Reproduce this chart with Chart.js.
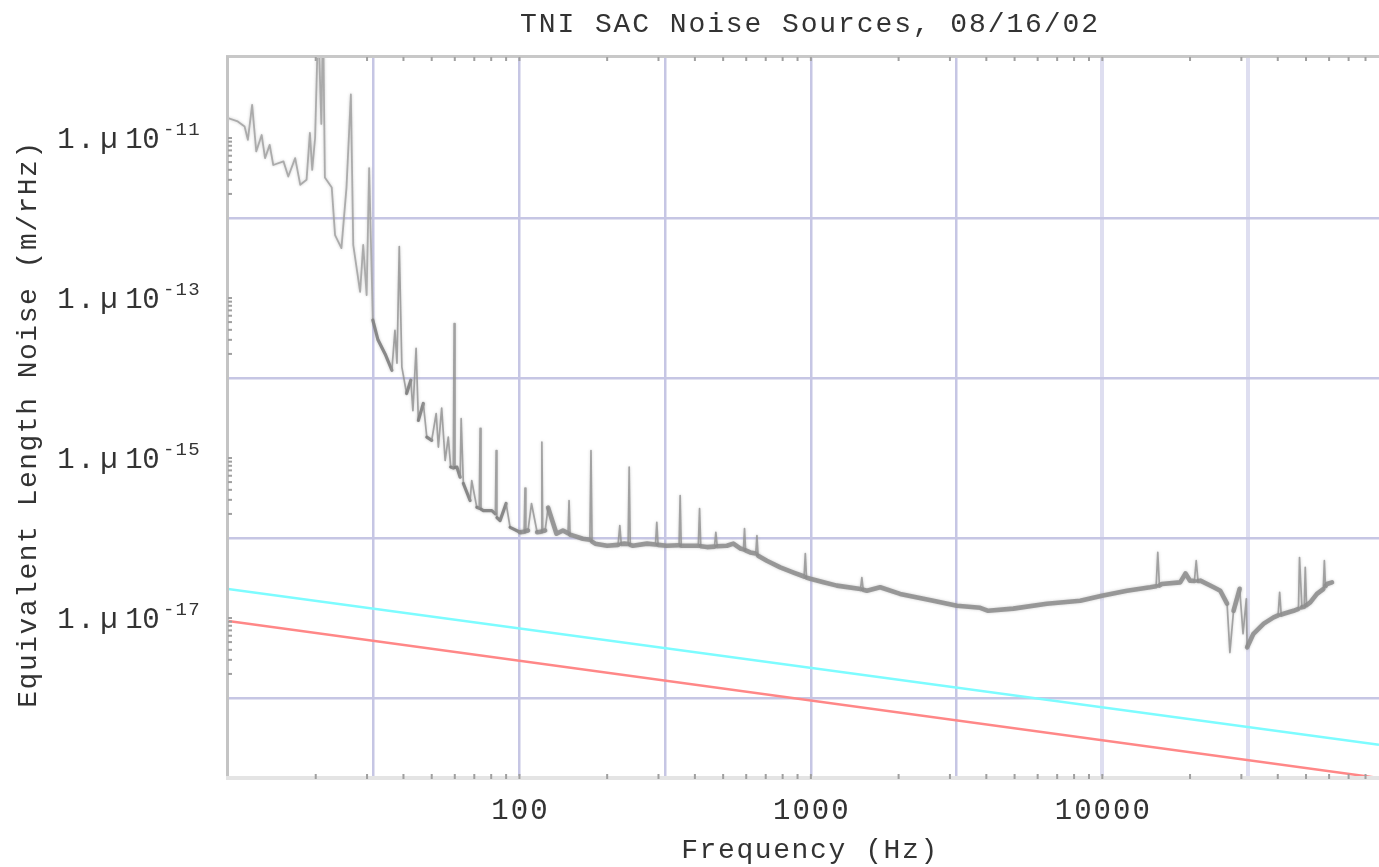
<!DOCTYPE html>
<html>
<head>
<meta charset="utf-8">
<title>TNI SAC Noise Sources</title>
<script src="https://cdn.jsdelivr.net/npm/chart.js@4.4.1/dist/chart.umd.min.js"></script>
<style>
  html, body { margin: 0; padding: 0; background: #fff; }
  #wrap { width: 1379px; height: 867px; }
</style>
</head>
<body>
<div id="wrap"><canvas id="noise-chart" width="1379" height="867"></canvas></div>
<script>
// noise.js - equivalent length noise spectrum, log-log

const chartTitle = 'TNI SAC Noise Sources, 08/16/02';
const xTitle = 'Frequency (Hz)';
const yTitle = 'Equivalent Length Noise (m/rHz)';

// measured spectrum (Hz, m/rHz)
const measFreq = [
  10, 10.8, 11.4, 11.7, 12.1, 12.5, 13.05, 13.4, 13.9, 14.3,
  15.5, 16.1, 17.0, 17.7, 18.6, 19.1, 19.45, 19.9, 20.4, 20.9,
  21.2, 21.5, 22.7, 23.3, 24.5, 25.5, 26.4, 26.9, 28.4, 29.1,
  29.9, 30.5, 31.4, 32.7, 34.6, 36.5, 37.4, 38.0, 38.7, 39.5,
  41.0, 42.4, 43.1, 44.2, 45.0, 46.8, 48.1, 50.0, 51.8, 52.7,
  54.1, 55.6, 57.0, 58.1, 59.3, 59.7, 60.1, 61.0, 62.6, 63.1,
  64.2, 67.7, 68.6, 71.4, 72.8, 73.3, 73.8, 75.2, 80.4, 82.7,
  83.2, 83.7, 85.8, 90.0, 92.9, 100.5, 103.8, 104.5, 105.2, 107,
  110, 115, 118.6, 119.4, 120.2, 122.5, 125.4, 134, 141, 146.8,
  148, 149.2, 153, 165, 174.5, 176, 177.5, 182, 200, 218,
  221, 223.5, 229, 236, 238, 240, 245, 274, 293, 296,
  299, 320, 353, 356, 359, 375, 411, 415, 419, 440,
  467, 472, 477, 515, 542, 572, 587, 592, 597, 619,
  647, 653, 659, 706, 785, 872, 948, 957, 966, 995,
  1105, 1228, 1480, 1496, 1512, 1556, 1729, 2024, 2630, 3170,
  3810, 4060, 4950, 6450, 8400, 9970, 12150, 14600, 15300, 15500,
  15700, 16000, 18500, 19300, 20000, 20700, 21000, 21300, 21700, 24100,
  25400, 26800, 27400, 28200, 29600, 30400, 31200, 31400, 33000, 35800,
  38700, 40100, 40600, 41100, 41900, 45300, 47100, 47500, 48400, 49300,
  49700, 50200, 51700, 54500, 57300, 57800, 58300, 59000, 61400
];
const measNoise = [
  1.77e-11, 1.61e-11, 1.39e-11, 9.5e-12, 2.6e-11, 6.8e-12, 1.09e-11, 5.6e-12, 8.2e-12, 4.6e-12,
  5.1e-12, 3.3e-12, 5.6e-12, 2.6e-12, 3.0e-12, 1.16e-11, 4.0e-12, 1.0e-11, 3e-10, 1.5e-11,
  3e-10, 3.2e-12, 2.4e-12, 6.1e-13, 4.2e-13, 2.4e-12, 3.5e-11, 4.6e-13, 1.19e-13, 4.6e-13,
  1.09e-13, 4.2e-12, 5.3e-14, 3.0e-14, 2.0e-14, 1.25e-14, 3.95e-14, 1.53e-14, 4.4e-13, 1.37e-14,
  6.4e-15, 9.4e-15, 3.9e-15, 2.35e-14, 2.95e-15, 4.8e-15, 1.82e-15, 1.66e-15, 3.6e-15, 1.37e-15,
  4.2e-15, 9.3e-16, 1.82e-15, 7.7e-16, 7.5e-16, 4.8e-14, 7.6e-16, 7.7e-16, 5.75e-16, 3.1e-15,
  4.8e-16, 2.94e-16, 5.2e-16, 2.42e-16, 2.35e-16, 2.34e-15, 2.3e-16, 2.2e-16, 2.2e-16, 2.0e-16,
  1.24e-15, 1.8e-16, 1.65e-16, 2.7e-16, 1.36e-16, 1.18e-16, 1.2e-16, 4.2e-16, 1.22e-16, 1.24e-16,
  2.7e-16, 1.18e-16, 1.2e-16, 1.58e-15, 1.22e-16, 1.24e-16, 2.4e-16, 1.13e-16, 1.24e-16, 1.15e-16,
  2.94e-16, 1.1e-16, 1.07e-16, 9.8e-17, 9.5e-17, 1.24e-15, 9.0e-17, 8.5e-17, 8.0e-17, 8.2e-17,
  1.43e-16, 8.4e-17, 8.5e-17, 8.4e-17, 7.7e-16, 8.2e-17, 8.0e-17, 8.5e-17, 8.3e-17, 1.57e-16,
  8.2e-17, 8.0e-17, 8.1e-17, 3.4e-16, 8.0e-17, 8.0e-17, 8.0e-17, 2.33e-16, 7.9e-17, 7.7e-17,
  7.8e-17, 1.18e-16, 7.9e-17, 8.0e-17, 8.5e-17, 7.4e-17, 7.2e-17, 1.31e-16, 7.0e-17, 6.6e-17,
  6.4e-17, 1.07e-16, 6.0e-17, 5.2e-17, 4.3e-17, 3.7e-17, 3.3e-17, 6.4e-17, 3.2e-17, 3.1e-17,
  2.8e-17, 2.54e-17, 2.3e-17, 3.2e-17, 2.25e-17, 2.19e-17, 2.42e-17, 2.0e-17, 1.64e-17, 1.42e-17,
  1.34e-17, 1.23e-17, 1.31e-17, 1.51e-17, 1.64e-17, 1.9e-17, 2.19e-17, 2.42e-17, 2.5e-17, 6.6e-17,
  2.55e-17, 2.66e-17, 2.79e-17, 3.6e-17, 2.93e-17, 2.9e-17, 5.2e-17, 2.9e-17, 2.93e-17, 2.42e-17,
  2.19e-17, 1.51e-17, 3.7e-18, 1.23e-17, 2.32e-17, 6.35e-18, 1.74e-17, 4.3e-18, 6.35e-18, 8.5e-18,
  1.02e-17, 1.08e-17, 2.09e-17, 1.1e-17, 1.13e-17, 1.23e-17, 1.3e-17, 5.7e-17, 1.36e-17, 1.38e-17,
  4.3e-17, 1.45e-17, 1.57e-17, 2.0e-17, 2.3e-17, 5.2e-17, 2.5e-17, 2.66e-17, 2.79e-17
];

// the two reference curves, straight lines on log-log axes
const cyanFreq = [10, 89000];
const cyanNoise = [2.3e-17, 2.6e-19];
const redFreq = [10, 89000];
const redNoise = [9.2e-18, 1.0e-19];

// axes
const xMin = 10, xMax = 89000;
const yMin = 1e-19, yMax = 1e-10;
const xGrid = [31.62, 100, 316.2, 1000, 3162, 10000, 31623];
const xFaintGrid = [10000, 31623];
const xLabels = ['100', '1000', '10000'];
const yGrid = [1e-18, 1e-16, 1e-14, 1e-12];
const yLabelExp = [-11, -13, -15, -17];

const monoFont = '"Liberation Mono", "DejaVu Sans Mono", monospace';
const textColor = '#333333';

function toPoints(xs, ys) {
    return xs.map((x, i) => ({ x: x, y: ys[i] }));
}

function spacedText(ctx, text, x, y, spacing) {
    ctx.letterSpacing = spacing + 'px';
    ctx.fillText(text, x, y);
    ctx.letterSpacing = '0px';
}

// a segment counts as part of a spike when it is steep on screen
function isSteep(c) {
    const dx = Math.abs(c.p1.x - c.p0.x) || 0.1;
    return Math.abs(c.p1.y - c.p0.y) / dx > 4;
}

// seismic end is drawn thin and light, spikes thin, the noise floor as a broad band
function segStyle(c) {
    const f = measFreq[c.p0DataIndex];
    if (f < 31) return { w: 1.8, col: 'rgba(165,165,165,0.9)' };
    if (isSteep(c)) return { w: 1.7, col: 'rgba(145,145,145,0.8)' };
    if (f < 100) return { w: 3.2, col: 'rgba(128,128,128,0.9)' };
    return { w: 4.6, col: 'rgba(140,140,140,0.85)' };
}

/**
 * Soft edge on the measured trace.
 */
const hazePlugin = {
    id: 'haze',
    beforeDatasetDraw(chart, args) {
        if (args.index !== 2) return;
        chart.ctx.save();
        chart.ctx.shadowColor = 'rgba(150,150,150,0.55)';
        chart.ctx.shadowBlur = 3;
    },
    afterDatasetDraw(chart, args) {
        if (args.index !== 2) return;
        chart.ctx.restore();
    }
};

/**
 * Frame, minor ticks and all the text (monospace, letter spaced).
 */
const framePlugin = {
    id: 'frame',
    afterDatasetsDraw(chart) {
        const ctx = chart.ctx;
        const a = chart.chartArea;
        const xs = chart.scales.x;
        const ys = chart.scales.y;
        ctx.save();

        // frame
        ctx.fillStyle = '#c8c8c8';
        ctx.fillRect(a.left - 2, a.top - 3, a.right - a.left + 2, 3);
        ctx.fillStyle = '#c4c4c4';
        ctx.fillRect(a.left - 2, a.top - 2, 3, a.bottom - a.top + 4);
        ctx.fillStyle = '#e4e4e4';
        ctx.fillRect(a.left - 2, a.bottom - 2, a.right - a.left + 2, 4);

        // minor ticks along top and bottom
        ctx.fillStyle = '#a0a0a0';
        for (let dec = 10; dec <= xMax; dec *= 10) {
            for (let k = 1; k <= 9; k++) {
                const v = k * dec;
                if (v <= xMin || v > xMax) continue;
                const px = xs.getPixelForValue(v);
                ctx.fillRect(px - 1, a.bottom - 4, 2, 5);
                ctx.fillRect(px - 1, a.top - 1, 2, 4);
            }
        }
        // minor ticks on the left, below each labelled decade
        yLabelExp.forEach(exp => {
            for (let k = 2; k <= 10; k++) {
                const py = ys.getPixelForValue(k * Math.pow(10, exp - 1));
                ctx.fillRect(a.left, py - 1, 4, 2);
            }
        });

        ctx.fillStyle = textColor;
        ctx.textBaseline = 'middle';

        // title
        ctx.textAlign = 'center';
        ctx.font = '28px ' + monoFont;
        spacedText(ctx, chartTitle, 810, 25, 1.9);

        // x tick labels and title
        ctx.font = '29px ' + monoFont;
        xLabels.forEach(lbl => {
            spacedText(ctx, lbl, xs.getPixelForValue(Number(lbl)) + 1, 811, 2);
        });
        ctx.font = '28px ' + monoFont;
        spacedText(ctx, xTitle, 810, 851, 1.6);

        // y tick labels: 1. µ 10^exp
        yLabelExp.forEach(exp => {
            const py = ys.getPixelForValue(Math.pow(10, exp)) + 2;
            ctx.font = '29px ' + monoFont;
            ctx.textAlign = 'center';
            ctx.fillText('1', 66, py);
            ctx.fillText('.', 86, py);
            ctx.fillText('µ', 109, py);
            ctx.fillText('1', 134, py);
            ctx.fillText('0', 151, py);
            ctx.font = '19px ' + monoFont;
            ctx.textAlign = 'left';
            spacedText(ctx, '-' + Math.abs(exp), 163, py - 10, 1.2);
        });

        // y title, rotated
        ctx.save();
        ctx.translate(29, 424);
        ctx.rotate(-Math.PI / 2);
        ctx.textAlign = 'center';
        ctx.font = '28px ' + monoFont;
        spacedText(ctx, yTitle, 0, 0, 1.5);
        ctx.restore();

        ctx.restore();
    }
};

function initNoiseChart() {
    const canvas = document.getElementById('noise-chart');
    new Chart(canvas, {
        type: 'scatter',
        data: {
            datasets: [
                {
                    label: 'cyan',
                    data: toPoints(cyanFreq, cyanNoise),
                    showLine: true,
                    borderColor: 'rgb(125,252,255)',
                    borderWidth: 2.5,
                    pointRadius: 0
                },
                {
                    label: 'red',
                    data: toPoints(redFreq, redNoise),
                    showLine: true,
                    borderColor: 'rgb(255,135,135)',
                    borderWidth: 2.5,
                    pointRadius: 0
                },
                {
                    label: 'measured',
                    data: toPoints(measFreq, measNoise),
                    showLine: true,
                    borderColor: 'rgb(140,140,140)',
                    borderWidth: 3,
                    borderCapStyle: 'round',
                    borderJoinStyle: 'round',
                    pointRadius: 0,
                    segment: {
                        borderWidth: c => segStyle(c).w,
                        borderColor: c => segStyle(c).col
                    }
                }
            ]
        },
        options: {
            responsive: false,
            animation: false,
            devicePixelRatio: 1,
            layout: { padding: { top: 58, right: 0, bottom: 0, left: 0 } },
            plugins: {
                legend: { display: false },
                title: { display: false },
                tooltip: { enabled: false }
            },
            scales: {
                x: {
                    type: 'logarithmic',
                    min: xMin,
                    max: xMax,
                    afterBuildTicks: s => { s.ticks = xGrid.map(v => ({ value: v })); },
                    afterFit: s => { s.height = 89; },
                    ticks: { display: false },
                    border: { display: false },
                    grid: {
                        drawTicks: false,
                        color: c => xFaintGrid.includes(c.tick.value) ? 'rgb(222,222,240)' : 'rgb(198,198,228)',
                        lineWidth: c => xFaintGrid.includes(c.tick.value) ? 4 : 2.5
                    }
                },
                y: {
                    type: 'logarithmic',
                    min: yMin,
                    max: yMax,
                    afterBuildTicks: s => { s.ticks = yGrid.map(v => ({ value: v })); },
                    afterFit: s => { s.width = 228; },
                    ticks: { display: false },
                    border: { display: false },
                    grid: {
                        drawTicks: false,
                        color: 'rgb(198,198,228)',
                        lineWidth: 2.5
                    }
                }
            }
        },
        plugins: [hazePlugin, framePlugin]
    });
}

document.addEventListener('DOMContentLoaded', () => {
    initNoiseChart();
});
</script>
</body>
</html>
